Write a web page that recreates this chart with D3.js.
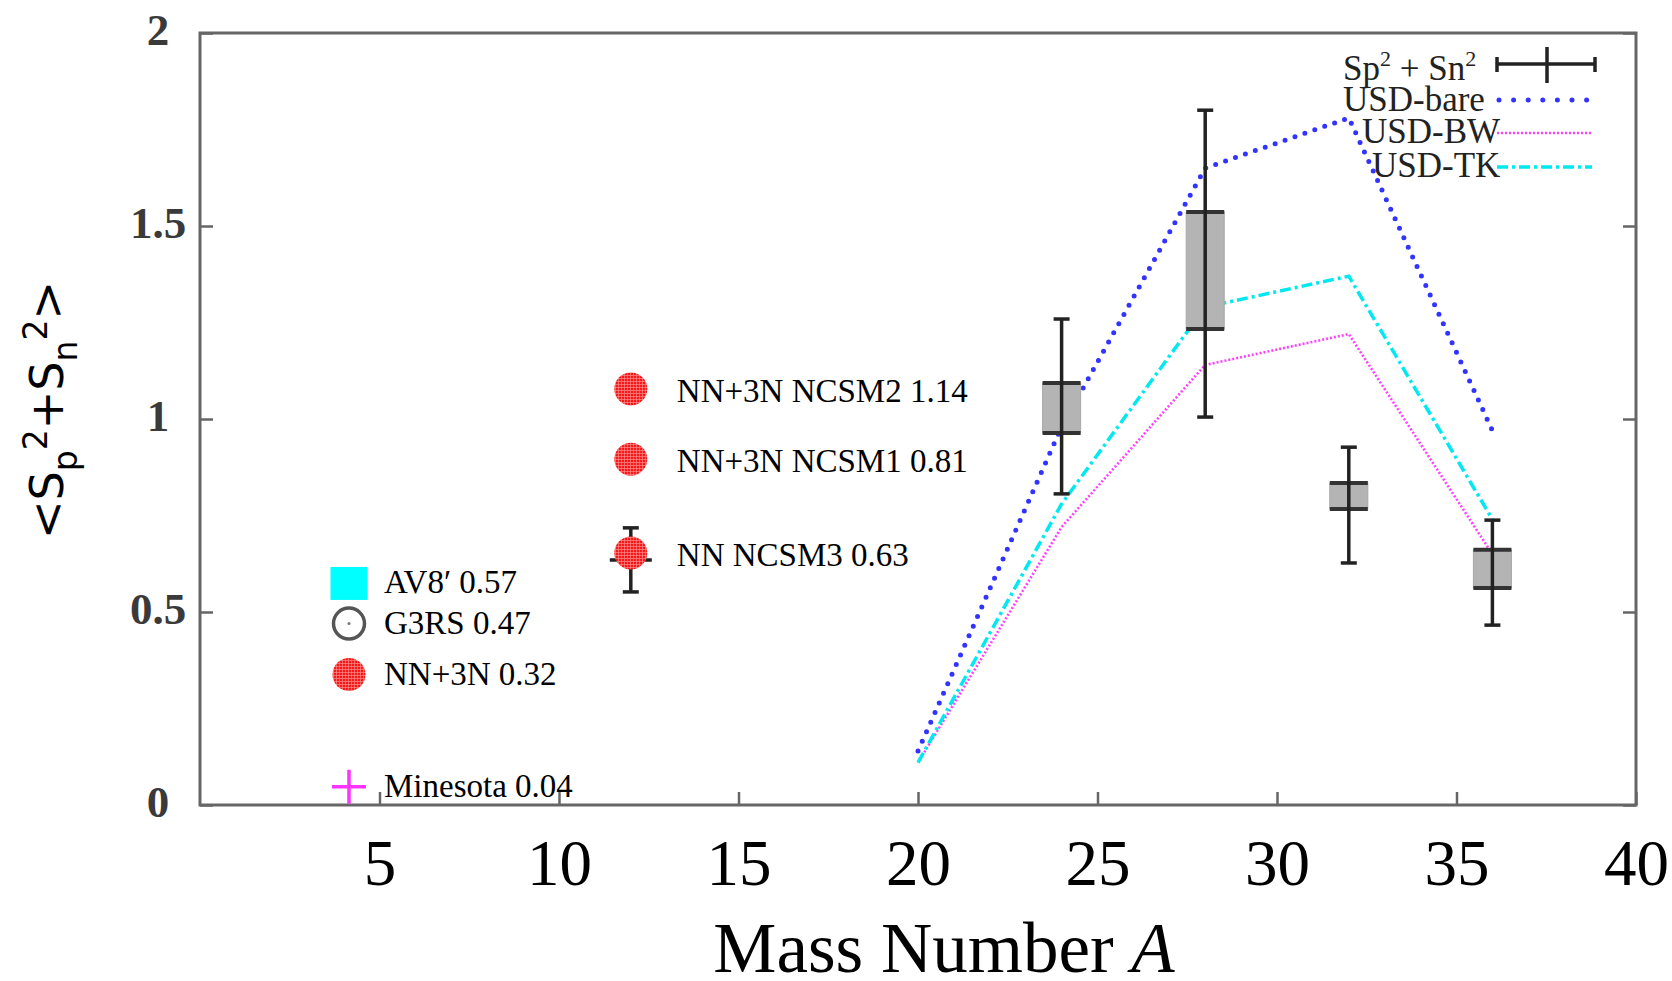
<!DOCTYPE html>
<html><head><meta charset="utf-8">
<script src="https://cdn.jsdelivr.net/npm/d3@7"></script>
<style>body{margin:0;background:#fff;} svg{display:block;}</style>
</head><body>
<svg id="chart" width="1672" height="981"></svg>
<script>
// ---- data ----
const massNumbers = [20, 24, 28, 32, 36];
const usdBare = [0.14, 0.98, 1.65, 1.78, 0.97];
const usdBW   = [0.11, 0.72, 1.14, 1.22, 0.65];
const usdTK   = [0.11, 0.78, 1.29, 1.37, 0.74];

const expA       = [24, 28, 32, 36];
const expErrLow  = [0.806, 1.005, 0.627, 0.466];
const expErrHigh = [1.259, 1.80, 0.927, 0.738];
const expSysLow  = [0.964, 1.233, 0.767, 0.562];
const expSysHigh = [1.093, 1.536, 0.834, 0.661];

const lightLabels = ["AV8\u2032 0.57", "G3RS 0.47", "NN+3N 0.32", "Minesota 0.04"];
const lightShapes = ["square", "ring", "hatch", "cross"];
const lightA      = [4.15, 4.15, 4.15, 4.15];
const lightVal    = [0.574, 0.47, 0.338, 0.047];

const ncsmLabels = ["NN+3N NCSM2 1.14", "NN+3N NCSM1 0.81", "NN NCSM3 0.63"];
const ncsmA      = [12, 12, 12];
const ncsmVal    = [1.078, 0.896, 0.653];
const ncsmCenter = [null, null, 0.635];
const ncsmErrLow = [null, null, 0.552];
const ncsmErrHigh= [null, null, 0.718];

const xTicks = [5, 10, 15, 20, 25, 30, 35, 40];
const yTicks = [0, 0.5, 1, 1.5, 2];

// ---- layout ----
const L = 200, R = 1636, T = 33, B = 805;
const x = d3.scaleLinear().domain([0, 40]).range([L, R]);
const y = d3.scaleLinear().domain([0, 2]).range([B, T]);
const svg = d3.select("#chart");

const defs = svg.append("defs");
const pat = defs.append("pattern").attr("id", "hatch").attr("patternUnits", "userSpaceOnUse")
  .attr("width", 3).attr("height", 3);
pat.append("rect").attr("width", 3).attr("height", 3).attr("fill", "#f51a1a");
pat.append("path").attr("d", "M0,0.5H3M0.5,0V3").attr("stroke", "#ff8a8a").attr("stroke-width", 0.7);

// axes ticks
const axisColor = "#666";
const gl = svg.append("g").attr("transform", `translate(${L},0)`)
  .call(d3.axisLeft(y).tickValues(yTicks).tickSize(-13).tickFormat(d => String(d)));
gl.select(".domain").remove();
gl.selectAll(".tick line").attr("stroke", axisColor).attr("stroke-width", 2.5);
gl.selectAll(".tick text").attr("x", -42).attr("dy", null).attr("y", 11)
  .attr("text-anchor", "middle").attr("font-family", "Liberation Serif").attr("font-weight", "bold")
  .attr("font-size", 45).attr("fill", "#3a3a3a");

const gr = svg.append("g").attr("transform", `translate(${R},0)`)
  .call(d3.axisRight(y).tickValues(yTicks).tickSize(-13).tickFormat(""));
gr.select(".domain").remove();
gr.selectAll(".tick line").attr("stroke", axisColor).attr("stroke-width", 2.5);

const gb = svg.append("g").attr("transform", `translate(0,${B})`)
  .call(d3.axisBottom(x).tickValues(xTicks).tickSize(-13).tickFormat(d => String(d)));
gb.select(".domain").remove();
gb.selectAll(".tick line").attr("stroke", axisColor).attr("stroke-width", 2.5);
gb.selectAll(".tick text").attr("y", 80).attr("dy", null)
  .attr("font-family", "Liberation Serif").attr("font-size", 65).attr("fill", "#000");

// frame
svg.append("rect").attr("x", L).attr("y", T).attr("width", R - L).attr("height", B - T)
  .attr("fill", "none").attr("stroke", axisColor).attr("stroke-width", 3);

// axis titles
const xt = svg.append("text").attr("x", 944).attr("y", 972).attr("text-anchor", "middle")
  .attr("font-family", "Liberation Serif").attr("font-size", 71).attr("fill", "#000");
xt.append("tspan").text("Mass Number ");
xt.append("tspan").attr("font-style", "italic").text("A");

const yt = svg.append("text").attr("transform", "translate(63,410) rotate(-90)")
  .attr("text-anchor", "middle").attr("font-family", "DejaVu Sans").attr("font-size", 46).attr("fill", "#000");
yt.append("tspan").text("<S");
yt.append("tspan").attr("font-size", 33).attr("dy", 14).text("p");
yt.append("tspan").attr("font-size", 33).attr("dy", -30).text("2");
yt.append("tspan").attr("dy", 16).text("+S");
yt.append("tspan").attr("font-size", 33).attr("dy", 14).text("n");
yt.append("tspan").attr("font-size", 33).attr("dy", -30).text("2");
yt.append("tspan").attr("dy", 16).text(">");

// model curves
const line = d3.line().x(d => x(d[0])).y(d => y(d[1]));
const curve = (vals) => massNumbers.map((a, i) => [a, vals[i]]);
svg.append("path").attr("d", line(curve(usdBW))).attr("fill", "none")
  .attr("stroke", "#ff40ff").attr("stroke-width", 2.6).attr("stroke-dasharray", "2 2");
svg.append("path").attr("d", line(curve(usdTK))).attr("fill", "none")
  .attr("stroke", "#00e8f0").attr("stroke-width", 3.5).attr("stroke-dasharray", "11 4 3 4");
svg.append("path").attr("d", line(curve(usdBare))).attr("fill", "none")
  .attr("stroke", "#3333ff").attr("stroke-width", 5).attr("stroke-linecap", "round")
  .attr("stroke-dasharray", "0 10.5");

// experimental data
const boxHalf = 0.53, capHalf = 8;
expA.forEach((a, i) => {
  const g = svg.append("g");
  g.append("rect").attr("x", x(a - boxHalf)).attr("width", x(a + boxHalf) - x(a - boxHalf))
    .attr("y", y(expSysHigh[i])).attr("height", y(expSysLow[i]) - y(expSysHigh[i]))
    .attr("fill", "#b4b4b4").attr("stroke", "#a8a8a8").attr("stroke-width", 1);
  [expSysHigh[i], expSysLow[i]].forEach(v => g.append("line")
    .attr("x1", x(a - boxHalf)).attr("x2", x(a + boxHalf)).attr("y1", y(v)).attr("y2", y(v))
    .attr("stroke", "#333").attr("stroke-width", 4));
  g.append("line").attr("x1", x(a)).attr("x2", x(a)).attr("y1", y(expErrHigh[i])).attr("y2", y(expErrLow[i]))
    .attr("stroke", "#222").attr("stroke-width", 3.5);
  [expErrHigh[i], expErrLow[i]].forEach(v => g.append("line")
    .attr("x1", x(a) - capHalf).attr("x2", x(a) + capHalf).attr("y1", y(v)).attr("y2", y(v))
    .attr("stroke", "#222").attr("stroke-width", 3.5));
});

// light-nuclei model points
const labelFont = "Liberation Serif";
lightA.forEach((a, i) => {
  const cx = x(a), cy = y(lightVal[i]);
  const s = lightShapes[i];
  if (s === "square") {
    svg.append("rect").attr("x", cx - 18.5).attr("y", cy - 16.5).attr("width", 37).attr("height", 33).attr("fill", "#00ffff");
  } else if (s === "ring") {
    svg.append("circle").attr("cx", cx).attr("cy", cy).attr("r", 15.5).attr("fill", "none")
      .attr("stroke", "#555").attr("stroke-width", 3.5);
    svg.append("circle").attr("cx", cx).attr("cy", cy).attr("r", 1.5).attr("fill", "#777");
  } else if (s === "hatch") {
    svg.append("circle").attr("cx", cx).attr("cy", cy).attr("r", 16.5).attr("fill", "url(#hatch)");
  } else if (s === "cross") {
    svg.append("path").attr("d", `M${cx - 17},${cy}H${cx + 17}M${cx},${cy - 17}V${cy + 17}`)
      .attr("stroke", "#ff33ff").attr("stroke-width", 3.5);
  }
  svg.append("text").attr("x", cx + 35).attr("y", cy + 10).attr("font-family", labelFont)
    .attr("font-size", 33).attr("fill", "#000").text(lightLabels[i]);
});

// NCSM points
ncsmA.forEach((a, i) => {
  const cx = x(a), cy = y(ncsmVal[i]);
  if (ncsmErrLow[i] !== null) {
    svg.append("line").attr("x1", cx).attr("x2", cx).attr("y1", y(ncsmErrHigh[i])).attr("y2", y(ncsmErrLow[i]))
      .attr("stroke", "#222").attr("stroke-width", 3.5);
    [ncsmErrHigh[i], ncsmErrLow[i]].forEach(v => svg.append("line")
      .attr("x1", cx - capHalf).attr("x2", cx + capHalf).attr("y1", y(v)).attr("y2", y(v))
      .attr("stroke", "#222").attr("stroke-width", 3.5));
    svg.append("line").attr("x1", cx - 21).attr("x2", cx + 21).attr("y1", y(ncsmCenter[i])).attr("y2", y(ncsmCenter[i]))
      .attr("stroke", "#222").attr("stroke-width", 3.5);
  }
  svg.append("circle").attr("cx", cx).attr("cy", cy).attr("r", 16.5).attr("fill", "url(#hatch)");
  svg.append("text").attr("x", cx + 46).attr("y", cy + 13).attr("font-family", labelFont)
    .attr("font-size", 33).attr("fill", "#000").text(ncsmLabels[i]);
});

// legend (top right)
const lg = svg.append("g").attr("font-family", "Liberation Serif").attr("font-size", 35).attr("fill", "#222");
const t0 = lg.append("text").attr("x", 1343).attr("y", 80);
t0.append("tspan").text("Sp");
t0.append("tspan").attr("font-size", 22).attr("dy", -14).text("2");
t0.append("tspan").attr("dy", 14).text(" + Sn");
t0.append("tspan").attr("font-size", 22).attr("dy", -14).text("2");
const le = lg.append("g").attr("stroke", "#222").attr("stroke-width", 3.5);
le.append("line").attr("x1", 1497).attr("x2", 1595).attr("y1", 64).attr("y2", 64);
le.append("line").attr("x1", 1497).attr("x2", 1497).attr("y1", 57).attr("y2", 72);
le.append("line").attr("x1", 1595).attr("x2", 1595).attr("y1", 57).attr("y2", 72);
le.append("line").attr("x1", 1547).attr("x2", 1547).attr("y1", 47).attr("y2", 83);

lg.append("text").attr("x", 1343).attr("y", 111).text("USD-bare");
lg.append("line").attr("x1", 1499).attr("x2", 1587).attr("y1", 100).attr("y2", 100)
  .attr("stroke", "#3333ff").attr("stroke-width", 5).attr("stroke-linecap", "round").attr("stroke-dasharray", "0 14.6");
lg.append("text").attr("x", 1362).attr("y", 143).text("USD-BW");
lg.append("line").attr("x1", 1497).attr("x2", 1592).attr("y1", 133).attr("y2", 133)
  .attr("stroke", "#ff40ff").attr("stroke-width", 2.6).attr("stroke-dasharray", "2 2");
lg.append("text").attr("x", 1372).attr("y", 177).text("USD-TK");
lg.append("line").attr("x1", 1497).attr("x2", 1592).attr("y1", 167).attr("y2", 167)
  .attr("stroke", "#00e8f0").attr("stroke-width", 3.5).attr("stroke-dasharray", "11 4 3 4");
</script>
</body></html>
